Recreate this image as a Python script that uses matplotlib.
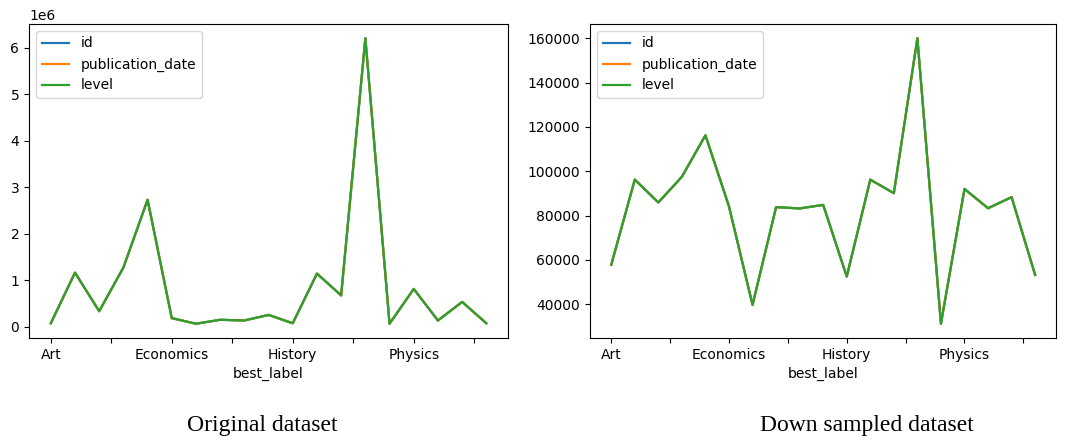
import numpy as np
import matplotlib.pyplot as plt

# categories on the x axis (only every 5th one gets a label, like pandas does)
categories = ["Art", "Biology", "Business", "Chemistry", "Computer Science",
              "Economics", "Engineering", "Environmental Science", "Geography",
              "Geology", "History", "Materials Science", "Mathematics",
              "Medicine", "Philosophy", "Physics", "Political Science",
              "Psychology", "Sociology"]

# original dataset counts
original = [0.07e6, 1.16e6, 0.33e6, 1.27e6, 2.73e6, 0.18e6, 0.06e6, 0.145e6,
            0.13e6, 0.25e6, 0.07e6, 1.14e6, 0.67e6, 6.21e6, 0.06e6, 0.81e6,
            0.13e6, 0.53e6, 0.07e6]

# down sampled counts
down = [57800, 96200, 85900, 97500, 116200, 84100, 39700, 83800, 83200,
        84800, 52500, 96200, 90100, 160000, 31200, 92000, 83300, 88300, 53200]

series = ["id", "publication_date", "level"]
captions = ["Original dataset", "Down sampled dataset"]
caption_x = [0.2455, 0.8126]

fig = plt.figure(figsize=(10.67, 4.43), dpi=100)
ax1 = fig.add_axes([0.0272, 0.237, 0.449, 0.709])
ax2 = fig.add_axes([0.553, 0.237, 0.437, 0.709])

x = np.arange(len(categories))
ticks = np.arange(0, len(categories), 2.5)
ticklabels = [categories[int(t)] if t % 5 == 0 else "" for t in ticks]

for ax, vals, cap, cx in zip([ax1, ax2], [original, down], captions, caption_x):
    for name in series:
        ax.plot(x, vals, label=name, linewidth=1.6)
    ax.set_xticks(ticks, ticklabels)
    ax.set_xlabel("best_label", fontsize=10)
    ax.tick_params(labelsize=10)
    ax.legend(loc="upper left", fontsize=10)
    fig.text(cx, 0.04, cap, ha="center", va="center",
             fontsize=17, family="Liberation Serif")

fig.savefig("out.png", dpi=100)
